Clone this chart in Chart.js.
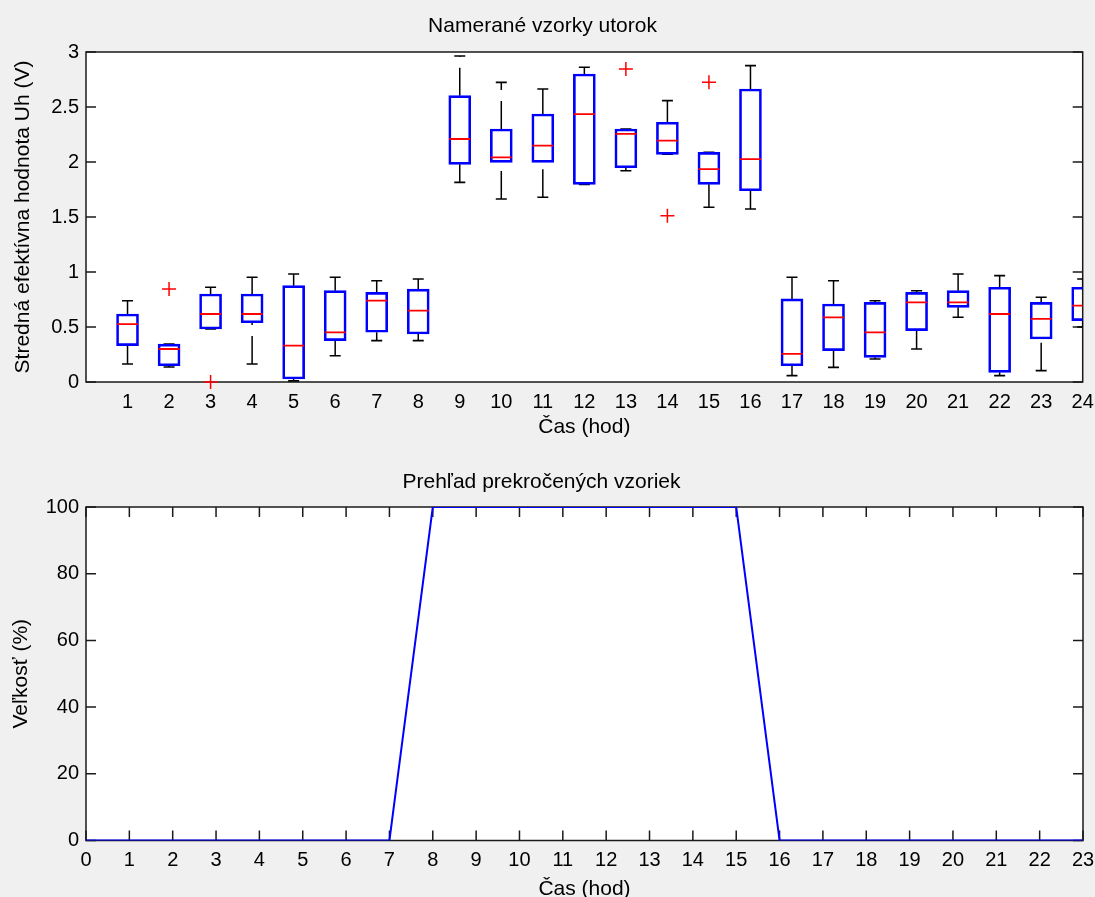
<!DOCTYPE html>
<html><head><meta charset="utf-8">
<script src="https://cdn.jsdelivr.net/npm/chart.js@4.4.1/dist/chart.umd.min.js"></script>
<style>
html,body{margin:0;padding:0;background:#f0f0f0;width:1095px;height:897px;overflow:hidden;}
canvas{position:absolute;left:0;}
#c1{top:0;} #c2{top:445px;}
</style></head><body>
<canvas id="c1" width="1095" height="445"></canvas>
<canvas id="c2" width="1095" height="470"></canvas>
<script>
// ---------- data: top chart (box plot per hour) ----------
const hours       = [1,2,3,4,5,6,7,8,9,10,11,12,13,14,15,16,17,18,19,20,21,22,23,24];
const q1          = [0.33,0.148,0.482,0.539,0.027,0.376,0.452,0.436,1.979,1.997,1.997,1.797,1.948,2.07,1.797,1.739,0.148,0.285,0.224,0.467,0.679,0.088,0.391,0.558];
const median      = [0.527,0.30,0.618,0.618,0.33,0.452,0.739,0.648,2.209,2.042,2.148,2.436,2.255,2.194,1.936,2.027,0.255,0.588,0.452,0.724,0.724,0.618,0.573,0.694];
const q3          = [0.618,0.345,0.80,0.80,0.876,0.83,0.815,0.845,2.603,2.30,2.436,2.80,2.30,2.361,2.088,2.664,0.755,0.709,0.724,0.815,0.83,0.861,0.724,0.861];
const whiskerLow  = [0.164,0.136,0.482,0.164,0.01,0.239,0.376,0.376,1.815,1.664,1.679,1.797,1.921,2.07,1.588,1.573,0.058,0.133,0.209,0.30,0.588,0.058,0.103,0.50];
const whiskerHigh = [0.739,0.345,0.861,0.952,0.982,0.952,0.921,0.936,2.964,2.724,2.664,2.861,2.30,2.558,2.088,2.876,0.952,0.921,0.739,0.83,0.982,0.967,0.77,0.936];
const outlierHours  = [2,3,13,14,15];
const outlierValues = [0.845,0.0,2.845,1.512,2.724];
const topYTicks   = [0,0.5,1,1.5,2,2.5,3];
const topTitle    = 'Namerané vzorky utorok';
const topYLabel   = 'Stredná efektívna hodnota Uh (V)';
const xLabel      = 'Čas (hod)';

// ---------- data: bottom chart ----------
const hours2       = [0,1,2,3,4,5,6,7,8,9,10,11,12,13,14,15,16,17,18,19,20,21,22,23];
const exceededPct  = [0,0,0,0,0,0,0,0,100,100,100,100,100,100,100,100,0,0,0,0,0,0,0,0];
const bottomYTicks = [0,20,40,60,80,100];
const bottomTitle  = 'Prehľad prekročených vzoriek';
const bottomYLabel = 'Veľkosť (%)';

// ---------- style ----------
const FONT = '"Liberation Sans", Arial, Helvetica, sans-serif';
Chart.defaults.font.family = FONT;
Chart.defaults.color = '#000';
Chart.defaults.animation = false;

const framePlugin = {
  id: 'frame',
  beforeDraw(chart) {
    const {ctx, chartArea: a} = chart;
    ctx.save();
    ctx.fillStyle = '#ffffff';
    ctx.fillRect(a.left, a.top, a.right - a.left, a.bottom - a.top);
    ctx.restore();
  },
  beforeDatasetsDraw(chart, args, opts) {
    const {ctx, chartArea: a, scales} = chart;
    ctx.save();
    ctx.strokeStyle = '#1a1a1a';
    ctx.lineWidth = 1.5;
    const L = 10;
    ctx.beginPath();
    if (opts.xTicks) scales.x.ticks.forEach(t => {
      const px = scales.x.getPixelForValue(t.value);
      ctx.moveTo(px, a.bottom); ctx.lineTo(px, a.bottom - L);
      ctx.moveTo(px, a.top); ctx.lineTo(px, a.top + L);
    });
    if (opts.yTicks) scales.y.ticks.forEach(t => {
      const py = scales.y.getPixelForValue(t.value);
      ctx.moveTo(a.left, py); ctx.lineTo(a.left + L, py);
      ctx.moveTo(a.right, py); ctx.lineTo(a.right - L, py);
    });
    ctx.stroke();
    ctx.strokeRect(a.left, a.top, a.right - a.left, a.bottom - a.top);
    ctx.restore();
  }
};

const whiskerPlugin = {
  id: 'whiskers',
  beforeDatasetsDraw(chart) {
    const {ctx, chartArea: a, scales: {x, y}} = chart;
    ctx.save();
    ctx.beginPath();
    ctx.rect(a.left, a.top, a.right - a.left, a.bottom - a.top);
    ctx.clip();
    ctx.strokeStyle = '#000';
    ctx.lineWidth = 1.5;
    ctx.setLineDash([28, 11]);
    hours.forEach((h, i) => {
      const px = x.getPixelForValue(h);
      if (whiskerLow[i] < q1[i]) {
        ctx.beginPath();
        ctx.moveTo(px, y.getPixelForValue(whiskerLow[i]));
        ctx.lineTo(px, y.getPixelForValue(q1[i]));
        ctx.stroke();
      }
      if (whiskerHigh[i] > q3[i]) {
        ctx.beginPath();
        ctx.moveTo(px, y.getPixelForValue(q3[i]));
        ctx.lineTo(px, y.getPixelForValue(whiskerHigh[i]));
        ctx.stroke();
      }
    });
    ctx.restore();
  }
};

const fixY = w => s => { s.width = w; s.paddingTop = 0; s.paddingBottom = 0; };
const fixX = h => s => { s.height = h; s.paddingLeft = 0; s.paddingRight = 0; };
const setTicks = arr => s => { s.ticks = arr.map(v => ({value: v})); };
const TITLE_FONT = {family: FONT, size: 21, lineHeight: 1, weight: 'normal'};
const TICK_FONT = {family: FONT, size: 20, lineHeight: 1, weight: 'normal'};

// ---------- top chart ----------
new Chart(document.getElementById('c1'), {
  type: 'bar',
  data: {
    datasets: [
      { type: 'scatter', label: 'outliers', data: outlierHours.map((h, i) => ({x: h, y: outlierValues[i]})),
        pointStyle: 'cross', pointRadius: 7, pointBorderColor: '#ff0000', pointBorderWidth: 1.5, clip: false, order: 0 },
      { type: 'scatter', label: 'median', data: hours.map((h, i) => ({x: h, y: median[i]})),
        pointStyle: 'line', pointRadius: 10.5, pointBorderColor: '#ff0000', pointBorderWidth: 1.8, clip: 0, order: 1 },
      { type: 'bar', label: 'box', data: hours.map((h, i) => ({x: h, y: [q1[i], q3[i]]})),
        backgroundColor: 'rgba(255,255,255,0)', borderColor: '#0000ff', borderWidth: 2, borderSkipped: false,
        barThickness: 22, clip: 0, order: 2 },
      { type: 'scatter', label: 'whiskerHigh', data: hours.map((h, i) => ({x: h, y: whiskerHigh[i]})),
        pointStyle: 'line', pointRadius: 5.5, pointBorderColor: '#000', pointBorderWidth: 1.6, clip: 0, order: 3 },
      { type: 'scatter', label: 'whiskerLow', data: hours.map((h, i) => ({x: h, y: whiskerLow[i]})),
        pointStyle: 'line', pointRadius: 5.5, pointBorderColor: '#000', pointBorderWidth: 1.6, clip: 0, order: 3 }
    ]
  },
  options: {
    responsive: false,
    events: [],
    layout: {padding: {left: 0, right: 10, top: 0, bottom: 0}},
    plugins: {
      legend: {display: false},
      tooltip: {enabled: false},
      title: {display: true, text: topTitle, font: TITLE_FONT, color: '#000', padding: {top: 16, bottom: 15}},
      frame: {xTicks: false, yTicks: true}
    },
    scales: {
      x: {
        type: 'linear', min: 0, max: 24, offset: false,
        grid: {display: false, drawTicks: false}, border: {display: false},
        afterBuildTicks: setTicks(hours), afterFit: fixX(63),
        ticks: {font: TICK_FONT, padding: 10, autoSkip: false, maxRotation: 0, callback: v => String(v)},
        title: {display: true, text: xLabel, font: TITLE_FONT, padding: {top: 0, bottom: 7.5}}
      },
      y: {
        min: 0, max: 3,
        grid: {display: false, drawTicks: false}, border: {display: false},
        afterBuildTicks: setTicks(topYTicks), afterFit: fixY(86),
        ticks: {font: TICK_FONT, padding: 7, callback: v => String(v)},
        title: {display: true, text: topYLabel, font: TITLE_FONT, padding: {top: 13, bottom: 0}}
      }
    }
  },
  plugins: [framePlugin, whiskerPlugin]
});

// ---------- bottom chart ----------
new Chart(document.getElementById('c2'), {
  type: 'line',
  data: {
    datasets: [{
      label: 'prekročené', data: hours2.map((h, i) => ({x: h, y: exceededPct[i]})),
      borderColor: '#0000ff', borderWidth: 2, pointRadius: 0, tension: 0, fill: false
    }]
  },
  options: {
    responsive: false,
    events: [],
    layout: {padding: {left: 0, right: 12, top: 0, bottom: 0}},
    plugins: {
      legend: {display: false},
      tooltip: {enabled: false},
      title: {display: true, text: bottomTitle, font: TITLE_FONT, color: '#000', padding: {top: 26.7, bottom: 14.3}},
      frame: {xTicks: true, yTicks: true}
    },
    scales: {
      x: {
        type: 'linear', min: 0, max: 23, offset: false,
        grid: {display: false, drawTicks: false}, border: {display: false},
        afterBuildTicks: setTicks(hours2), afterFit: fixX(74.5),
        ticks: {font: TICK_FONT, padding: 9.5, autoSkip: false, maxRotation: 0, callback: v => String(v)},
        title: {display: true, text: xLabel, font: TITLE_FONT, padding: {top: 0, bottom: 15.5}}
      },
      y: {
        min: 0, max: 100,
        grid: {display: false, drawTicks: false}, border: {display: false},
        afterBuildTicks: setTicks(bottomYTicks), afterFit: fixY(86),
        ticks: {font: TICK_FONT, padding: 7, callback: v => String(v)},
        title: {display: true, text: bottomYLabel, font: TITLE_FONT, padding: {top: 10.5, bottom: 0}}
      }
    }
  },
  plugins: [framePlugin]
});
</script>
</body></html>
